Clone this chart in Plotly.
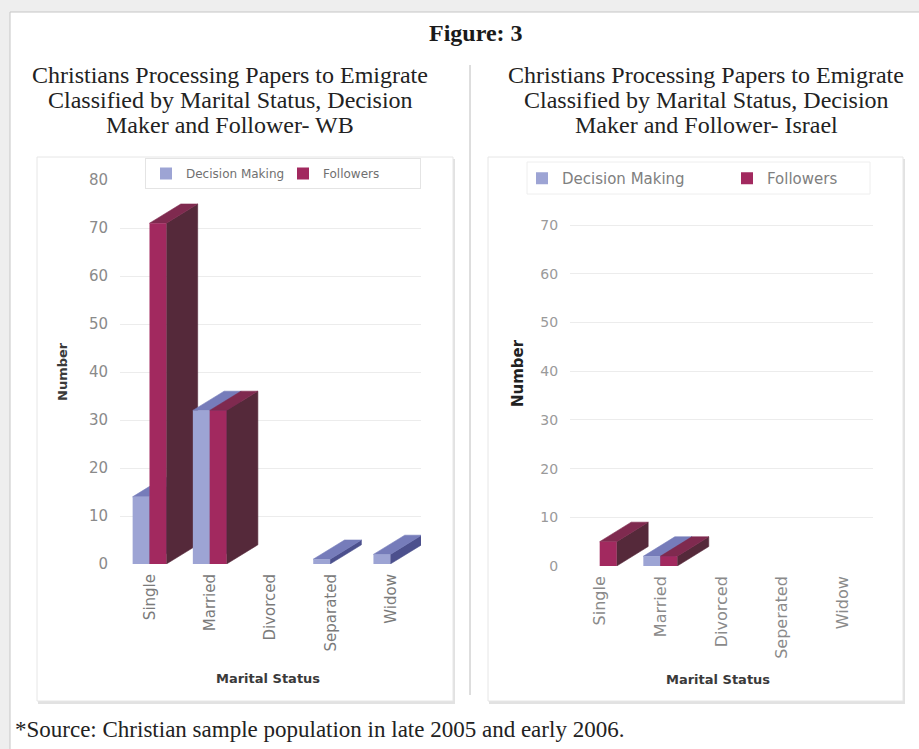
import plotly.graph_objects as go

# ---- data -------------------------------------------------------------
series_names = ["Decision Making", "Followers"]

status_wb = ["Single", "Married", "Divorced", "Separated", "Widow"]
decision_wb = [14, 32, 0, 1, 2]
followers_wb = [71, 32, 0, 0, 0]

status_il = ["Single", "Married", "Divorced", "Seperated", "Widow"]
decision_il = [0, 2, 0, 0, 0]
followers_il = [5, 2, 0, 0, 0]

y_ticks_wb = [0, 10, 20, 30, 40, 50, 60, 70, 80]
y_ticks_il = [0, 10, 20, 30, 40, 50, 60, 70]

title_main = "Figure: 3"
title_wb = ["Christians Processing Papers to Emigrate",
            "Classified by Marital Status, Decision",
            "Maker and Follower- WB"]
title_il = ["Christians Processing Papers to Emigrate",
            "Classified by Marital Status, Decision",
            "Maker and Follower- Israel"]
source_note = "*Source: Christian sample population in late 2005 and early 2006."

# ---- style ------------------------------------------------------------
W, H = 919, 749
SERIF = "Liberation Serif"
SANS = "DejaVu Sans"

FACE = {
    "Decision Making": dict(front="#9da4d4", top="#767cba", side="#4c508d"),
    "Followers": dict(front="#a2295f", top="#7f2a4f", side="#55293a"),
}
OFFSET = [-0.29, -0.01]   # bar start relative to category centre
BAR_W = 0.28              # bar width in category units
DEPTH_X = 0.52            # 3-D depth, category units
DEPTH_Y = 4.0             # 3-D depth, value units


def px_x(p):
    return p / W


def px_y(p):
    return 1 - p / H


fig = go.Figure()


def add_chart(cats, series_values, xa, ya, legend):
    idx = list(range(len(cats)))
    # depth faces (side + top), painted left to right so nearer bars cover
    for i in idx:
        for s, name in enumerate(series_names):
            v = series_values[s][i]
            if v <= 0:
                continue
            x0 = i + OFFSET[s]
            x1 = x0 + BAR_W
            side_x = [x1, x1 + DEPTH_X, x1 + DEPTH_X, x1, x1]
            side_y = [0, DEPTH_Y, v + DEPTH_Y, v, 0]
            top_x = [x0, x1, x1 + DEPTH_X, x0 + DEPTH_X, x0]
            top_y = [v, v, v + DEPTH_Y, v + DEPTH_Y, v]
            for xs, ys, col in ((side_x, side_y, FACE[name]["side"]),
                                (top_x, top_y, FACE[name]["top"])):
                fig.add_trace(go.Scatter(
                    x=xs, y=ys, mode="lines", fill="toself", fillcolor=col,
                    line=dict(color=col, width=0.6), hoverinfo="skip",
                    showlegend=False, xaxis=xa, yaxis=ya, zorder=0))
    # front faces
    for s, name in enumerate(series_names):
        fig.add_trace(go.Bar(
            x=idx, y=series_values[s], name=name, offset=OFFSET[s], width=BAR_W,
            marker=dict(color=FACE[name]["front"], line=dict(width=0)),
            xaxis=xa, yaxis=ya, legend=legend, zorder=1))


add_chart(status_wb, [decision_wb, followers_wb], "x", "y", "legend")
add_chart(status_il, [decision_il, followers_il], "x2", "y2", "legend2")

axis_common_x = dict(range=[-0.5, 4.5], tickmode="array", tickvals=list(range(5)),
                     tickangle=-90, showgrid=False, zeroline=False, showline=False,
                     ticks="", ticklabelstandoff=6, fixedrange=True)
axis_common_y = dict(tickmode="array", showgrid=True, gridcolor="#ececec",
                     gridwidth=1, zeroline=False, showline=True, linecolor="#e2e2e2",
                     ticks="", ticklabelstandoff=8, fixedrange=True)

fig.update_layout(
    width=W, height=H,
    margin=dict(l=0, r=0, t=0, b=0, autoexpand=False),
    paper_bgcolor="#eeeeee", plot_bgcolor="white",
    barmode="overlay", showlegend=True,
    xaxis=dict(axis_common_x, domain=[px_x(120), px_x(421)], ticktext=status_wb,
               tickfont=dict(family=SANS, size=15, color="#7a7a7a"), anchor="y"),
    yaxis=dict(axis_common_y, domain=[px_y(564), px_y(180)], range=[0, 80],
               tickvals=y_ticks_wb, tickfont=dict(family=SANS, size=15, color="#8a8a8a"),
               anchor="x"),
    xaxis2=dict(axis_common_x, domain=[px_x(570), px_x(873)], ticktext=status_il,
                tickfont=dict(family=SANS, size=16, color="#8a8a8a"), anchor="y2"),
    yaxis2=dict(axis_common_y, domain=[px_y(566), px_y(195)], range=[0, 76.2],
                tickvals=y_ticks_il, tickfont=dict(family=SANS, size=14, color="#9a9a9a"),
                anchor="x2"),
    legend=dict(orientation="h", x=px_x(145), y=px_y(158), xanchor="left", yanchor="top",
                bgcolor="white", bordercolor="#e4e4e4", borderwidth=1,
                font=dict(family=SANS, size=12, color="#707070"),
                entrywidth=92, entrywidthmode="pixels", traceorder="normal"),
    legend2=dict(orientation="h", x=px_x(522), y=px_y(162), xanchor="left", yanchor="top",
                 bgcolor="rgba(255,255,255,0)", borderwidth=0,
                 font=dict(family=SANS, size=15, color="#808080"),
                 entrywidth=160, entrywidthmode="pixels", traceorder="normal"),
)

# page frame, chart panels and divider
shapes = [
    dict(type="rect", xref="paper", yref="paper", x0=px_x(10), y0=px_y(12),
         x1=px_x(940), y1=px_y(770), fillcolor="white",
         line=dict(color="#c6c6c6", width=1), layer="below"),
]
for (l, r) in [(37, 453), (488, 903)]:
    shapes.append(dict(type="rect", xref="paper", yref="paper",
                       x0=px_x(l + 1), y0=px_y(159), x1=px_x(r + 2), y1=px_y(704),
                       fillcolor="#e2e2e2", line=dict(width=0), layer="below"))
    shapes.append(dict(type="rect", xref="paper", yref="paper",
                       x0=px_x(l), y0=px_y(157), x1=px_x(r), y1=px_y(701),
                       fillcolor="white", line=dict(color="#e6e6e6", width=1),
                       layer="below"))
# faint frame around the right legend
shapes.append(dict(type="rect", xref="paper", yref="paper", x0=px_x(527), y0=px_y(162),
                   x1=px_x(870), y1=px_y(194), fillcolor="white",
                   line=dict(color="#eeeeee", width=1), layer="below"))
shapes.append(dict(type="line", xref="paper", yref="paper", x0=px_x(470), x1=px_x(470),
                   y0=px_y(65), y1=px_y(695), line=dict(color="#bcbcbc", width=1),
                   layer="below"))
fig.update_layout(shapes=shapes)

# text
ann = [dict(text=f"<b>{title_main}</b>", x=px_x(476), y=px_y(33), xref="paper",
            yref="paper", showarrow=False, xanchor="center", yanchor="middle",
            font=dict(family=SERIF, size=24, color="#1a1a1a"))]
for cx, lines in ((230, title_wb), (706, title_il)):
    for k, line in enumerate(lines):
        ann.append(dict(text=line, x=px_x(cx), y=px_y(75 + 25 * k), xref="paper",
                        yref="paper", showarrow=False, xanchor="center",
                        yanchor="middle", font=dict(family=SERIF, size=24, color="#222222")))
ann.append(dict(text=source_note, x=px_x(13), y=px_y(729), xref="paper", yref="paper",
                showarrow=False, xanchor="left", yanchor="middle",
                font=dict(family=SERIF, size=23, color="#222222")))
# axis titles
for cx, cy, col, sz in ((63, 372, "#3a3a3a", 13), (518, 373, "#222222", 15)):
    ann.append(dict(text="<b>Number</b>", x=px_x(cx), y=px_y(cy), xref="paper",
                    yref="paper", showarrow=False, textangle=-90, xanchor="center",
                    yanchor="middle", font=dict(family=SANS, size=sz, color=col)))
for cx, cy, col in ((268, 678, "#3a3a3a"), (718, 679, "#3a3a3a")):
    ann.append(dict(text="<b>Marital Status</b>", x=px_x(cx), y=px_y(cy), xref="paper",
                    yref="paper", showarrow=False, xanchor="center", yanchor="middle",
                    font=dict(family=SANS, size=13, color=col)))
fig.update_layout(annotations=ann)

fig.write_html("out.html")
